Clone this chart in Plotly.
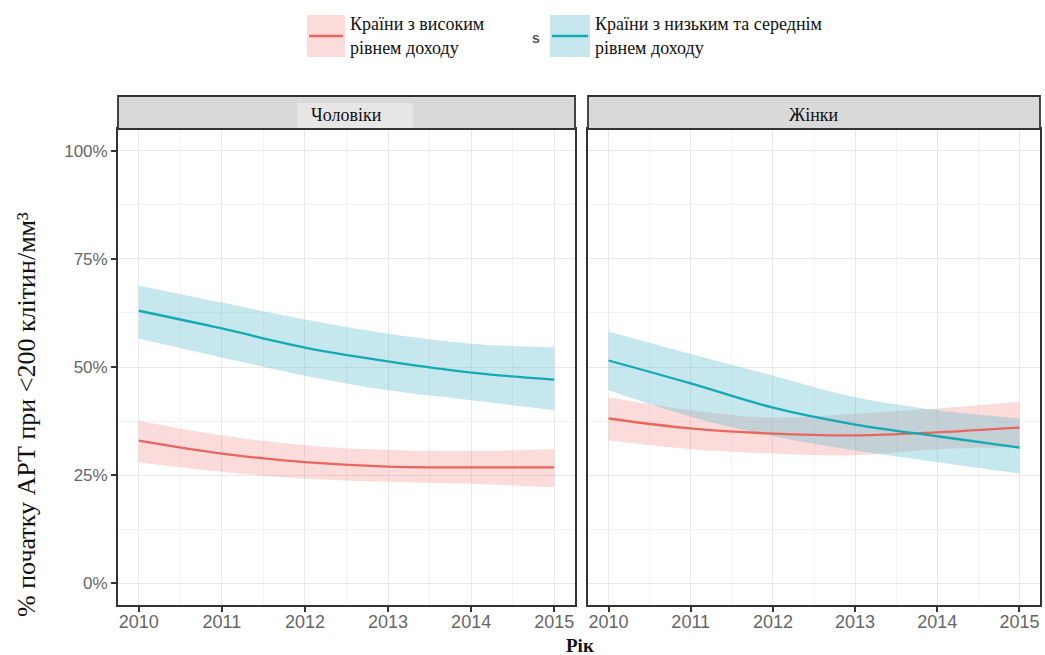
import plotly.graph_objects as go

years = [2010, 2011, 2012, 2013, 2014, 2015]

# Men (Чоловіки)
men_high = [33.0, 30.0, 28.0, 27.0, 26.8, 26.8]
men_high_lo = [28.0, 25.8, 24.2, 23.5, 23.0, 22.2]
men_high_hi = [37.6, 34.2, 31.9, 30.8, 30.6, 31.0]
men_low = [63.0, 58.9, 54.5, 51.3, 48.7, 47.1]
men_low_lo = [56.6, 52.2, 48.0, 44.6, 42.3, 40.0]
men_low_hi = [68.8, 64.9, 61.0, 57.7, 55.4, 54.5]

# Women (Жінки)
wom_high = [38.1, 35.8, 34.6, 34.2, 34.9, 36.0]
wom_high_lo = [33.0, 31.0, 30.0, 29.6, 31.0, 31.5]
wom_high_hi = [43.0, 40.0, 38.3, 39.2, 40.4, 42.0]
wom_low = [51.5, 46.2, 40.6, 36.7, 34.0, 31.4]
wom_low_lo = [44.6, 38.5, 34.0, 30.7, 28.0, 25.4]
wom_low_hi = [58.2, 53.0, 48.0, 43.0, 40.0, 38.1]

panel_titles = ["Чоловіки", "Жінки"]
legend_labels = [["Країни з високим", "рівнем доходу"],
                 ["Країни з низьким та середнім", "рівнем доходу"]]
y_ticks = [0, 25, 50, 75, 100]
y_ticktext = ["0%", "25%", "50%", "75%", "100%"]

RED = "#E8665E"
TEAL = "#14AAB2"
RED_FILL = "rgba(239,115,111,0.25)"
TEAL_FILL = "rgba(92,186,206,0.35)"

fig = go.Figure()

def add_panel(xa, ya, hi, hi_lo, hi_hi, lo, lo_lo, lo_hi):
    for lower, upper, fillc in [(hi_lo, hi_hi, RED_FILL), (lo_lo, lo_hi, TEAL_FILL)]:
        fig.add_trace(go.Scatter(x=years, y=lower, mode="lines", line=dict(width=0, shape="spline"),
                                 xaxis=xa, yaxis=ya, showlegend=False, hoverinfo="skip"))
        fig.add_trace(go.Scatter(x=years, y=upper, mode="lines", line=dict(width=0, shape="spline"),
                                 fill="tonexty", fillcolor=fillc,
                                 xaxis=xa, yaxis=ya, showlegend=False, hoverinfo="skip"))
    fig.add_trace(go.Scatter(x=years, y=hi, mode="lines", line=dict(color=RED, width=2.3, shape="spline"),
                             xaxis=xa, yaxis=ya, showlegend=False))
    fig.add_trace(go.Scatter(x=years, y=lo, mode="lines", line=dict(color=TEAL, width=2.3, shape="spline"),
                             xaxis=xa, yaxis=ya, showlegend=False))

add_panel("x", "y", men_high, men_high_lo, men_high_hi, men_low, men_low_lo, men_low_hi)
add_panel("x2", "y2", wom_high, wom_high_lo, wom_high_hi, wom_low, wom_low_lo, wom_low_hi)

W, H = 1045, 655
def px(x): return x / W
def py(y): return 1 - y / H

xl = [118, 575]
xr = [588, 1040]
ytop, ybot = 129, 605
strip_top = 96

grid_major = "#e8e8e8"
grid_minor = "#f3f3f3"
tickfont_y = dict(family="Liberation Sans, Arial, sans-serif", size=17, color="#666666")
tickfont_x = dict(family="Liberation Sans, Arial, sans-serif", size=18, color="#666666")
serif = "Liberation Serif, Times New Roman, serif"

def xaxis_cfg(dom):
    return dict(domain=[px(dom[0]), px(dom[1])], range=[2009.75, 2015.25],
                tickmode="array", tickvals=years, ticktext=[str(y) for y in years],
                ticks="outside", ticklen=5, tickwidth=2, tickcolor="#333333",
                ticklabelstandoff=-6,
                showline=True, mirror=True, linecolor="#333333", linewidth=1.8,
                showgrid=True, gridcolor=grid_major, gridwidth=1.3, zeroline=False,
                tickfont=tickfont_x,
                minor=dict(tickvals=[2010.5, 2011.5, 2012.5, 2013.5, 2014.5],
                           showgrid=True, gridcolor=grid_minor, gridwidth=1, ticks=""))

def yaxis_cfg(show):
    return dict(domain=[py(ybot), py(ytop)], range=[-5, 105],
                tickmode="array", tickvals=y_ticks, ticktext=y_ticktext,
                showticklabels=show, ticks="outside" if show else "", ticklen=5, tickwidth=2,
                tickcolor="#333333",
                showline=True, mirror=True, linecolor="#333333", linewidth=1.8,
                showgrid=True, gridcolor=grid_major, gridwidth=1.3, zeroline=False,
                tickfont=tickfont_y,
                minor=dict(tickvals=[12.5, 37.5, 62.5, 87.5],
                           showgrid=True, gridcolor=grid_minor, gridwidth=1, ticks=""))

shapes = []
annotations = []

# strips
for (x0, x1), title in zip([xl, xr], panel_titles):
    shapes.append(dict(type="rect", xref="paper", yref="paper",
                       x0=px(x0), x1=px(x1), y0=py(ytop), y1=py(strip_top),
                       fillcolor="#D9D9D9", line=dict(color="#333333", width=1.8), layer="above"))
# lighter patch behind the left strip label (as in the source image)
shapes.append(dict(type="rect", xref="paper", yref="paper",
                   x0=px(297), x1=px(413), y0=py(128), y1=py(103),
                   fillcolor="#E6E6E6", line=dict(width=0), layer="above"))
for (x0, x1), title in zip([xl, xr], panel_titles):
    annotations.append(dict(text=title, xref="paper", yref="paper",
                            x=px((x0 + x1) / 2), y=py((ytop + strip_top) / 2 + 2),
                            xanchor="center", yanchor="middle", showarrow=False,
                            font=dict(family=serif, size=18, color="#111111")))

# legend
for (bx0, bx1, tx), fillc, linec, labels in [((307, 345, 348), "#FBDCDB", RED, legend_labels[0]),
                                             ((550, 590, 593), "#C6E7EE", TEAL, legend_labels[1])]:
    shapes.append(dict(type="rect", xref="paper", yref="paper",
                       x0=px(bx0), x1=px(bx1), y0=py(57), y1=py(15),
                       fillcolor=fillc, line=dict(width=0)))
    shapes.append(dict(type="line", xref="paper", yref="paper",
                       x0=px(bx0 + 2), x1=px(bx1 - 2), y0=py(36), y1=py(36),
                       line=dict(color=linec, width=2.5)))
    annotations.append(dict(text=labels[0], xref="paper", yref="paper", x=px(tx), y=py(24),
                            xanchor="left", yanchor="middle", showarrow=False,
                            font=dict(family=serif, size=18, color="#111111")))
    annotations.append(dict(text=labels[1], xref="paper", yref="paper", x=px(tx), y=py(48),
                            xanchor="left", yanchor="middle", showarrow=False,
                            font=dict(family=serif, size=18, color="#111111")))
annotations.append(dict(text="<b>s</b>", xref="paper", yref="paper", x=px(536), y=py(38),
                        xanchor="center", yanchor="middle", showarrow=False,
                        font=dict(family="Liberation Sans, Arial", size=14, color="#555555")))

# axis titles
annotations.append(dict(text="% початку АРТ при <200 клітин/мм³", xref="paper", yref="paper",
                        x=px(27), y=py(415), xanchor="center", yanchor="middle", textangle=-90,
                        showarrow=False, font=dict(family=serif, size=26, color="#111111")))
annotations.append(dict(text="<b>Рік</b>", xref="paper", yref="paper",
                        x=px(580), y=py(645), xanchor="center", yanchor="middle",
                        showarrow=False, font=dict(family=serif, size=19, color="#111111")))

fig.update_layout(
    width=W, height=H, margin=dict(l=0, r=0, t=0, b=0),
    paper_bgcolor="white", plot_bgcolor="white", showlegend=False,
    xaxis=xaxis_cfg(xl), yaxis=yaxis_cfg(True),
    xaxis2=dict(xaxis_cfg(xr), anchor="y2"), yaxis2=dict(yaxis_cfg(False), anchor="x2"),
    shapes=shapes, annotations=annotations,
)
fig.update_layout(xaxis=dict(anchor="y"), yaxis=dict(anchor="x"))

fig.write_html("out.html")
